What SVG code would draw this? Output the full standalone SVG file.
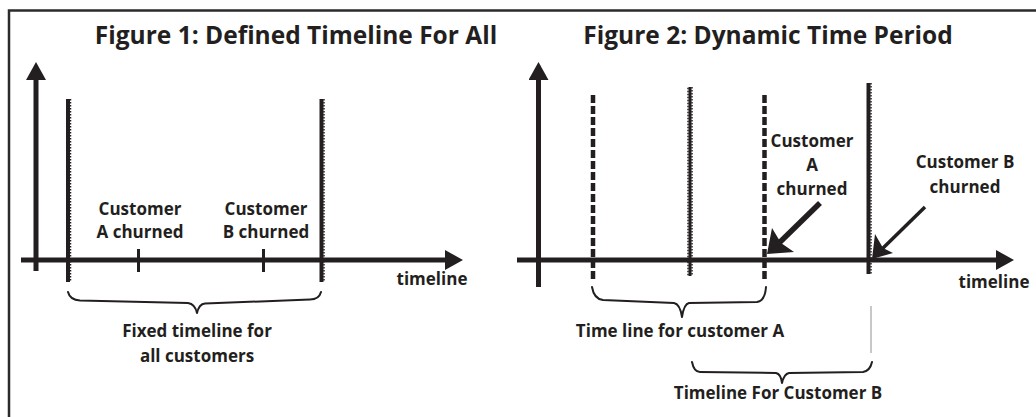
<svg xmlns="http://www.w3.org/2000/svg" width="1036" height="417" viewBox="0 0 1036 417">
  <style>
    .t { font-family: "Open Sans", "Liberation Sans", sans-serif; font-weight: bold; fill: #231f20; text-anchor: middle; }
    .title { font-size: 24.5px; }
    .lbl { font-size: 17px; }
    .axis { stroke: #231f20; stroke-width: 5; fill: none; }
    .tick { stroke: #231f20; stroke-width: 3; fill: none; }
    .dotted { stroke: #231f20; stroke-width: 4; fill: none; }
    .notch { stroke: #231f20; stroke-width: 1.5; stroke-dasharray: 1.5 1.5; fill: none; }
    .dashed { stroke: #231f20; stroke-width: 4.5; stroke-dasharray: 8 3; fill: none; }
    .brace { stroke: #231f20; stroke-width: 2; fill: none; stroke-linejoin: round; stroke-linecap: round; }
    .head { fill: #231f20; }
  </style>
  <defs>
    <marker id="axhead" viewBox="0 0 18 20" refX="0" refY="10" markerWidth="18" markerHeight="20" markerUnits="userSpaceOnUse" orient="auto">
      <path d="M0,0 L18,10 L0,20 Z" fill="#231f20"/>
    </marker>
  </defs>
  <rect width="1036" height="417" fill="#ffffff"/>
  <g id="frame">
    <path d="M9,417 L9,10.5 L1036,10.5" stroke="#2b2b2b" stroke-width="2.5" fill="none"/>
  </g>

  <!-- Figure 1 -->
  <g id="fig1-title"><text class="t title" x="296" y="44">Figure 1: Defined Timeline For All</text></g>
  <g id="fig1-yaxis"><line class="axis" x1="36" y1="271" x2="36" y2="80" marker-end="url(#axhead)"/></g>
  <g id="fig1-xaxis"><line class="axis" x1="21" y1="260" x2="445" y2="260" marker-end="url(#axhead)"/></g>
  <g id="fig1-start"><line class="dotted" x1="68" y1="99" x2="68" y2="282"/><line class="notch" x1="70.5" y1="99" x2="70.5" y2="282"/></g>
  <g id="fig1-end"><line class="dotted" x1="321.5" y1="99" x2="321.5" y2="282"/><line class="notch" x1="324" y1="99" x2="324" y2="282"/></g>
  <g id="fig1-tickA"><line class="tick" x1="138.5" y1="249" x2="138.5" y2="272"/></g>
  <g id="fig1-tickB"><line class="tick" x1="263.5" y1="249" x2="263.5" y2="272"/></g>
  <g id="fig1-labelA"><text class="t lbl" x="140" y="215">Customer</text><text class="t lbl" x="140" y="238">A churned</text></g>
  <g id="fig1-labelB"><text class="t lbl" x="266" y="215">Customer</text><text class="t lbl" x="266" y="238">B churned</text></g>
  <g id="fig1-timeline"><text class="t lbl" x="432" y="285">timeline</text></g>
  <g id="fig1-fixed"><text class="t lbl" x="197" y="337">Fixed timeline for</text><text class="t lbl" x="197" y="362">all customers</text></g>

  <!-- Figure 2 -->
  <g id="fig2-title"><text class="t title" x="768" y="44">Figure 2: Dynamic Time Period</text></g>
  <g id="fig2-yaxis"><line class="axis" x1="538.5" y1="287" x2="538.5" y2="80" marker-end="url(#axhead)"/></g>
  <g id="fig2-xaxis"><line class="axis" x1="517" y1="260" x2="996" y2="260" marker-end="url(#axhead)"/></g>
  <g id="fig2-line1"><line class="dashed" x1="593" y1="95" x2="593" y2="279"/></g>
  <g id="fig2-line2"><line class="dotted" x1="690" y1="87" x2="690" y2="276" style="stroke-width:3"/><line class="notch" x1="692" y1="87" x2="692" y2="276"/><line class="notch" x1="688" y1="87.7" x2="688" y2="276"/></g>
  <g id="fig2-line3"><line class="dashed" x1="764.5" y1="95" x2="764.5" y2="279"/></g>
  <g id="fig2-line4"><line class="dotted" x1="868.5" y1="83" x2="868.5" y2="274"/><line class="notch" x1="871" y1="83" x2="871" y2="274"/></g>
  <g id="fig2-labelA"><text class="t lbl" x="812" y="147">Customer</text><text class="t lbl" x="812" y="171">A</text><text class="t lbl" x="812" y="195">churned</text></g>
  <g id="fig2-labelB"><text class="t lbl" x="965" y="168">Customer B</text><text class="t lbl" x="965" y="193">churned</text></g>
  <g id="fig2-timeline"><text class="t lbl" x="994" y="288">timeline</text></g>
  <g id="fig2-textA"><text class="t lbl" x="680" y="337">Time line for customer A</text></g>
  <g id="fig2-textB"><text class="t lbl" x="778" y="399">Timeline For Customer B</text></g>
  <g id="fig2-guide"><line x1="871" y1="306" x2="871" y2="353" stroke="#c8c8c8" stroke-width="2"/></g>

  <!-- connectors -->
  <g id="connectors">
    <path class="brace" d="M68,292 Q70,300 80,300.5 L188,303 Q195,304 197,313 Q199,304 205,303.5 L310,299.5 Q319,299.5 321,292"/>
    <path class="brace" d="M592,287 Q594,299 603,300 L674,303 Q680,304 682,317 Q684,304 689,303 L757,302 Q765,301 766,287"/>
    <path class="brace" d="M692,362 Q694,372 700,372 L776,373 Q781,374 782,383 Q784,374 789,373 L863,372 Q870,371 872,362"/>
    <line x1="820" y1="203" x2="777" y2="245" stroke="#231f20" stroke-width="5.5"/>
    <path class="head" d="M767,254 L772,228 L781,243 L794,252 Z"/>
    <line x1="925" y1="207" x2="880" y2="251" stroke="#231f20" stroke-width="3.5"/>
    <path class="head" d="M872,259 L875,234 L883,248 L893,253 Z"/>
  </g>
</svg>
